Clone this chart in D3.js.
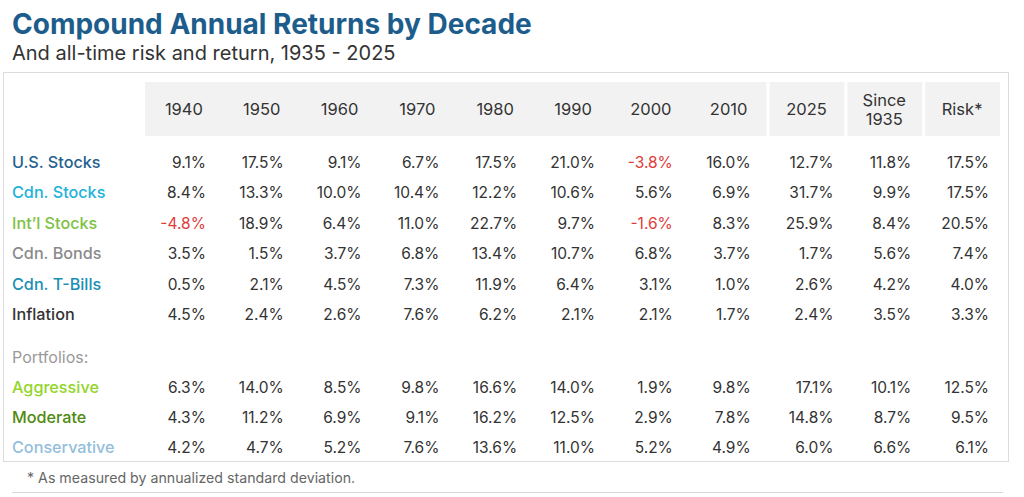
<!DOCTYPE html>
<html lang="en">
<head>
<meta charset="UTF-8" />
<script src="https://cdnjs.cloudflare.com/ajax/libs/d3/7.8.5/d3.min.js"></script>
<title>Compound Annual Returns by Decade</title>
<style>
body { margin: 0; background: #fff; }
svg text { font-family: Inter, "Open Sans", sans-serif; }
</style>
</head>
<body>
<div id="chart"></div>
<script>

// columns
const columns = ['1940', '1950', '1960', '1970', '1980', '1990', '2000', '2010', '2025', 'Since 1935', 'Risk*'];

// asset rows
const assets = ['U.S. Stocks', 'Cdn. Stocks', 'Int\u2019l Stocks', 'Cdn. Bonds', 'Cdn. T-Bills', 'Inflation'];
const assetColors = ['#24618f', '#22b2da', '#7dc242', '#8a8a8a', '#1a8fb4', '#333333'];
const usStocks    = [9.1, 17.5, 9.1, 6.7, 17.5, 21.0, -3.8, 16.0, 12.7, 11.8, 17.5];
const cdnStocks   = [8.4, 13.3, 10.0, 10.4, 12.2, 10.6, 5.6, 6.9, 31.7, 9.9, 17.5];
const intlStocks  = [-4.8, 18.9, 6.4, 11.0, 22.7, 9.7, -1.6, 8.3, 25.9, 8.4, 20.5];
const cdnBonds    = [3.5, 1.5, 3.7, 6.8, 13.4, 10.7, 6.8, 3.7, 1.7, 5.6, 7.4];
const cdnTBills   = [0.5, 2.1, 4.5, 7.3, 11.9, 6.4, 3.1, 1.0, 2.6, 4.2, 4.0];
const inflation   = [4.5, 2.4, 2.6, 7.6, 6.2, 2.1, 2.1, 1.7, 2.4, 3.5, 3.3];

// portfolio rows
const portfolios = ['Aggressive', 'Moderate', 'Conservative'];
const portfolioColors = ['#93d52a', '#4f8a10', '#94bedc'];
const aggressive   = [6.3, 14.0, 8.5, 9.8, 16.6, 14.0, 1.9, 9.8, 17.1, 10.1, 12.5];
const moderate     = [4.3, 11.2, 6.9, 9.1, 16.2, 12.5, 2.9, 7.8, 14.8, 8.7, 9.5];
const conservative = [4.2, 4.7, 5.2, 7.6, 13.6, 11.0, 5.2, 4.9, 6.0, 6.6, 6.1];

const assetValues = [usStocks, cdnStocks, intlStocks, cdnBonds, cdnTBills, inflation];
const portfolioValues = [aggressive, moderate, conservative];

const W = 1024, H = 497;
const svg = d3.select('#chart').append('svg')
  .attr('width', W).attr('height', H);

const pct = d3.formatLocale({ decimal: '.', thousands: ',', grouping: [3], currency: ['', ''], minus: '-' }).format('.1f');

// title
svg.append('text')
  .attr('x', 12).attr('y', 34)
  .style('font-size', '28px').style('font-weight', '700')
  .style('fill', '#1c5d8c')
  .text('Compound Annual Returns by Decade');
svg.append('text')
  .attr('x', 12).attr('y', 60)
  .style('font-size', '20px')
  .style('fill', '#333')
  .text('And all-time risk and return, 1935 - 2025');

// table frame
svg.append('rect')
  .attr('x', 3.5).attr('y', 72.5)
  .attr('width', 1005).attr('height', 389)
  .style('fill', '#fff').style('stroke', '#dcdcdc');

const x = d3.scaleBand().domain(columns).range([145, 1001]).paddingInner(0);

// header band: one block for decades, separate cells for the rest
const decadeCols = columns.slice(0, 8);
svg.append('rect')
  .attr('x', x(decadeCols[0])).attr('y', 82)
  .attr('width', x(decadeCols[7]) + x.bandwidth() - x(decadeCols[0]) - 1)
  .attr('height', 54)
  .style('fill', '#f2f2f2');
svg.selectAll('.hcell')
  .data(columns.slice(8))
  .join('rect')
  .attr('class', 'hcell')
  .attr('x', d => x(d) + 2)
  .attr('y', 82)
  .attr('width', x.bandwidth() - 3)
  .attr('height', 54)
  .style('fill', '#f2f2f2');

const header = svg.selectAll('.htext')
  .data(columns)
  .join('text')
  .attr('class', 'htext')
  .attr('x', d => x(d) + x.bandwidth() / 2)
  .attr('text-anchor', 'middle')
  .style('font-size', '16.5px')
  .style('fill', '#333');
header.each(function(d) {
  const t = d3.select(this);
  const parts = d.split(' ');
  if (parts.length === 1) {
    t.attr('y', 115).text(d);
  } else {
    t.attr('y', 106);
    parts.forEach((p, i) => {
      t.append('tspan').attr('x', x(d) + x.bandwidth() / 2).attr('dy', i ? 19 : 0).text(p);
    });
  }
});

const rowStep = 30.4;
const yAsset = i => 168 + i * rowStep;
const yPort = i => 392.5 + i * rowStep;

function drawRows(names, colors, values, yFn, cls) {
  const g = svg.selectAll('.' + cls)
    .data(names)
    .join('g')
    .attr('class', cls)
    .attr('transform', (d, i) => `translate(0,${yFn(i)})`);
  g.append('text')
    .attr('x', 12)
    .style('font-size', '16.2px')
    .style('font-weight', '500')
    .style('fill', (d, i) => colors[i])
    .text(d => d);
  g.selectAll('.val')
    .data((d, i) => values[i].map((v, j) => ({ v, col: columns[j] })))
    .join('text')
    .attr('class', 'val')
    .attr('x', d => x(d.col) + x.bandwidth() / 2 + (columns.indexOf(d.col) < 8 ? 22 : 27))
    .attr('text-anchor', 'end')
    .style('font-size', '15.5px')
    .style('fill', d => d.v < 0 ? '#e03c3c' : '#333')
    .text(d => pct(d.v) + '%');
}

drawRows(assets, assetColors, assetValues, yAsset, 'arow');

svg.append('text')
  .attr('x', 12).attr('y', 362.5)
  .style('font-size', '16px')
  .style('fill', '#999')
  .text('Portfolios:');

drawRows(portfolios, portfolioColors, portfolioValues, yPort, 'prow');

// footnote
svg.append('text')
  .attr('x', 27).attr('y', 483)
  .style('font-size', '14.2px')
  .style('fill', '#666')
  .text('* As measured by annualized standard deviation.');
svg.append('line')
  .attr('x1', 12).attr('x2', 1003)
  .attr('y1', 492.5).attr('y2', 492.5)
  .style('stroke', '#d8d8d8');

</script>
</body>
</html>
